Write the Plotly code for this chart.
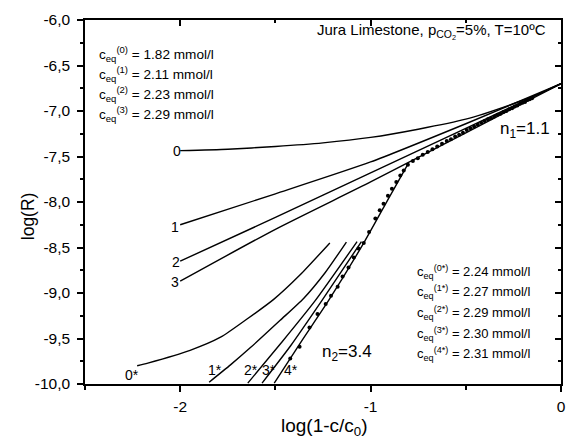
import plotly.graph_objects as go

FONT = "Arial, 'Liberation Sans', sans-serif"

# ---- axis ticks ----
x_tickvals = [-2, -1, 0]
x_ticktext = ["-2", "-1", "0"]
x_minor = [-2.5, -1.5, -0.5]
y_tickvals = [-10.0, -9.5, -9.0, -8.5, -8.0, -7.5, -7.0, -6.5, -6.0]
y_ticktext = ["-10,0", "-9,5", "-9,0", "-8,5", "-8,0", "-7,5", "-7,0", "-6,5", "-6,0"]
y_minor = [-9.75, -9.25, -8.75, -8.25, -7.75, -7.25, -6.75, -6.25]

# ---- model curves (c_eq variants) ----
c0_x = [-2.0, -1.75, -1.5, -1.25, -1.0, -0.75, -0.5, -0.25, -0.125, 0.0]
c0_y = [-7.435, -7.42, -7.39, -7.35, -7.29, -7.20, -7.09, -6.92, -6.82, -6.70]
c1_x = [-2.0, -1.5, -1.0, -0.5, 0.0]
c1_y = [-8.25, -7.91, -7.56, -7.14, -6.70]
c2_x = [-2.0, -1.5, -1.0, -0.5, 0.0]
c2_y = [-8.65, -8.17, -7.68, -7.19, -6.70]
c3_x = [-2.0, -1.5, -1.0, -0.5, 0.0]
c3_y = [-8.87, -8.30, -7.78, -7.24, -6.70]

s0_x = [-2.226, -2.17, -1.948, -1.788, -1.649, -1.509, -1.37, -1.214]
s0_y = [-9.80, -9.77, -9.63, -9.486, -9.286, -9.07, -8.80, -8.45]
s1_x = [-1.848, -1.736, -1.631, -1.475, -1.352, -1.24, -1.127]
s1_y = [-9.98, -9.79, -9.60, -9.30, -9.06, -8.78, -8.44]
s2_x = [-1.645, -1.47, -1.292, -1.071]
s2_y = [-9.99, -9.55, -9.087, -8.435]
s3_x = [-1.570, -1.42, -1.257, -1.048]
s3_y = [-9.99, -9.58, -9.087, -8.435]
s4_x = [-1.506, -1.36, -1.222, -1.032, -0.90, -0.804]
s4_y = [-9.99, -9.52, -9.087, -8.435, -7.94, -7.584]

# ---- measured data ----
data_x = [-1.422, -1.373, -1.321, -1.279, -1.236, -1.208, -1.173, -1.147, -1.116,
          -1.088, -1.064, -1.036, -1.008, -0.975, -0.952, -0.932, -0.909, -0.888,
          -0.865, -0.844, -0.826,
          -0.804, -0.778, -0.752, -0.726, -0.700, -0.675, -0.650, -0.625, -0.600,
          -0.578, -0.556, -0.535, -0.515, -0.495, -0.475, -0.456, -0.437, -0.419,
          -0.401, -0.384, -0.367, -0.350, -0.334, -0.318, -0.302, -0.287, -0.272,
          -0.257, -0.243, -0.229, -0.215, -0.202, -0.189, -0.176, -0.164, -0.152]
data_y = [-9.72, -9.59, -9.38, -9.23, -9.12, -9.03, -8.93, -8.82, -8.72,
          -8.61, -8.51, -8.45, -8.33, -8.18, -8.09, -8.02, -7.93, -7.855,
          -7.78, -7.71, -7.655,
          -7.59, -7.55, -7.52, -7.48, -7.45, -7.42, -7.39, -7.36, -7.33,
          -7.31, -7.28, -7.26, -7.24, -7.21, -7.19, -7.17, -7.15, -7.13,
          -7.11, -7.09, -7.08, -7.06, -7.04, -7.03, -7.01, -7.00, -6.98,
          -6.97, -6.95, -6.94, -6.92, -6.91, -6.90, -6.88, -6.87, -6.86]

curve_labels = ["0", "1", "2", "3", "0*", "1*", "2*", "3*", "4*"]
ceq_top = ["1.82", "2.11", "2.23", "2.29"]
ceq_top_idx = ["(0)", "(1)", "(2)", "(3)"]
ceq_bot = ["2.24", "2.27", "2.29", "2.30", "2.31"]
ceq_bot_idx = ["(0*)", "(1*)", "(2*)", "(3*)", "(4*)"]

fig = go.Figure()
line = dict(color="black", width=1.4)
for xs, ys in [(c0_x, c0_y), (c1_x, c1_y), (c2_x, c2_y), (c3_x, c3_y),
               (s0_x, s0_y), (s1_x, s1_y), (s2_x, s2_y), (s3_x, s3_y), (s4_x, s4_y)]:
    fig.add_trace(go.Scatter(x=xs, y=ys, mode="lines", line=dict(line, shape="spline", smoothing=0.6),
                             showlegend=False, hoverinfo="skip"))
fig.add_trace(go.Scatter(x=data_x, y=data_y, mode="markers",
                         marker=dict(color="black", size=4), showlegend=False))
# helper traces so mirrored axes are drawn
fig.add_trace(go.Scatter(x=[None], y=[None], xaxis="x2", yaxis="y", showlegend=False))
fig.add_trace(go.Scatter(x=[None], y=[None], xaxis="x", yaxis="y2", showlegend=False))

tickfont = dict(family=FONT, size=15.5, color="black")
common = dict(showgrid=False, zeroline=False, showline=True, linecolor="black", linewidth=1.5,
              tickcolor="black", tickwidth=1.5, ticklen=6)
fig.update_layout(
    width=577, height=446,
    margin=dict(l=85, r=11, t=16, b=62),
    paper_bgcolor="white", plot_bgcolor="white",
    font=dict(family=FONT, size=13, color="black"),
    xaxis=dict(range=[-2.5, 0], tickvals=x_tickvals, ticktext=x_ticktext, ticks="outside",
               tickfont=tickfont, ticklabelstandoff=2,
               minor=dict(tickvals=x_minor, ticks="outside", ticklen=4, tickcolor="black", tickwidth=1.5),
               **common),
    yaxis=dict(range=[-10, -6], tickvals=y_tickvals, ticktext=y_ticktext, ticks="outside",
               tickfont=tickfont, ticklabelstandoff=4,
               minor=dict(tickvals=y_minor, ticks="outside", ticklen=3, tickcolor="black", tickwidth=1.5),
               **common),
    xaxis2=dict(range=[-2.5, 0], overlaying="x", side="top", anchor="y", tickvals=x_tickvals,
                ticks="inside", showticklabels=False,
                minor=dict(tickvals=x_minor, ticks="inside", ticklen=3, tickcolor="black", tickwidth=1.5),
                **common),
    yaxis2=dict(range=[-10, -6], overlaying="y", side="right", anchor="x", tickvals=y_tickvals,
                ticks="inside", showticklabels=False,
                minor=dict(tickvals=y_minor, ticks="inside", ticklen=3, tickcolor="black", tickwidth=1.5),
                **common),
)

ann = []
# axis titles
ann.append(dict(text="log(R)", xref="paper", yref="paper", x=-0.121, y=0.462, textangle=-90,
                showarrow=False, font=dict(size=17.5), xanchor="center", yanchor="middle"))
ann.append(dict(text="log(1-c/c<sub>0</sub>)", xref="paper", yref="paper", x=0.5025, y=-0.118,
                showarrow=False, font=dict(size=19), xanchor="center", yanchor="middle"))
# title text
ann.append(dict(text="Jura Limestone, p<sub>CO<sub>2</sub></sub>=5%, T=10ºC", xref="paper", yref="paper",
                x=0.9736, y=0.969, showarrow=False, font=dict(size=15), xanchor="right", yanchor="middle"))
# c_eq lists
top_y = [0.9057, 0.8514, 0.797, 0.7427]
for i in range(4):
    ann.append(dict(text=f"c<sub>eq</sub><sup>{ceq_top_idx[i]}</sup> = {ceq_top[i]} mmol/l",
                    xref="paper", yref="paper", x=0.0244, y=top_y[i], showarrow=False,
                    font=dict(size=13.6), xanchor="left", yanchor="middle"))
bot_y = [0.307, 0.2514, 0.1957, 0.1386, 0.0815]
for i in range(5):
    ann.append(dict(text=f"c<sub>eq</sub><sup>{ceq_bot_idx[i]}</sup> = {ceq_bot[i]} mmol/l",
                    xref="paper", yref="paper", x=0.6925, y=bot_y[i], showarrow=False,
                    font=dict(size=13), xanchor="left", yanchor="middle"))
# slope labels
ann.append(dict(text="n<sub>1</sub>=1.1", xref="paper", yref="paper", x=0.8667, y=0.699,
                showarrow=False, font=dict(size=17), xanchor="left", yanchor="middle"))
ann.append(dict(text="n<sub>2</sub>=3.4", xref="paper", yref="paper", x=0.494, y=0.0842,
                showarrow=False, font=dict(size=17), xanchor="left", yanchor="middle"))
# curve labels
label_pos = [(-2.015, -7.435), (-2.025, -8.272), (-2.022, -8.663), (-2.028, -8.880),
             (-2.254, -9.90), (-1.815, -9.848), (-1.630, -9.848), (-1.536, -9.848), (-1.419, -9.848)]
for t, (lx, ly) in zip(curve_labels, label_pos):
    ann.append(dict(text=t, x=lx, y=ly, xref="x", yref="y", showarrow=False,
                    font=dict(size=14), xanchor="center", yanchor="middle"))
fig.update_layout(annotations=ann)

fig.write_html("out.html")
